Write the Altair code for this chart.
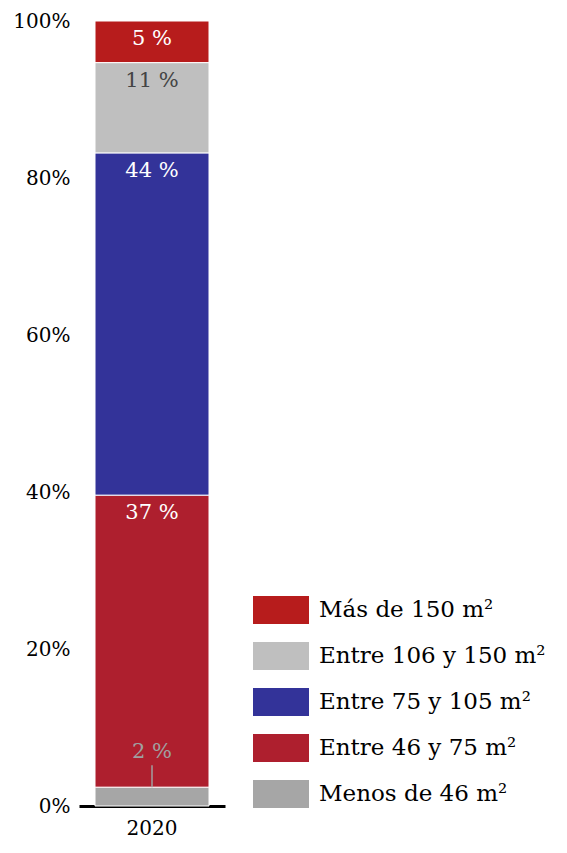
import altair as alt
import pandas as pd

categories = ["Menos de 46 m²", "Entre 46 y 75 m²", "Entre 75 y 105 m²",
              "Entre 106 y 150 m²", "Más de 150 m²"]
values = [2.4, 37.2, 43.6, 11.5, 5.3]
labels = ["2 %", "37 %", "44 %", "11 %", "5 %"]
label_colors = ["#a0a0a0", "#ffffff", "#ffffff", "#444444", "#ffffff"]
colors = ["#a6a6a6", "#ae1f2e", "#333399", "#bfbfbf", "#b71c1c"]
year = "2020"

FONT = "DejaVu Serif"

rows = []
cum = 0
for i, (c, v, l, lc) in enumerate(zip(categories, values, labels, label_colors)):
    rows.append({"year": year, "cat": c, "value": v, "order": i,
                 "y0": cum, "y1": cum + v, "label": l, "lcolor": lc})
    cum += v
df = pd.DataFrame(rows)

legend_order = categories[::-1]
legend_colors = colors[::-1]

x = alt.X("year:N", title=None,
          axis=alt.Axis(labelAngle=0, ticks=False, domainColor="black", domainWidth=3,
                        labelFont=FONT, labelFontSize=20, labelColor="black", labelPadding=12))
yscale = alt.Scale(domain=[0, 100], nice=False)

bars = alt.Chart(df).mark_bar(size=114, stroke="white", strokeWidth=1).encode(
    x=x,
    y=alt.Y("y0:Q", scale=yscale, title=None,
            axis=alt.Axis(values=[0, 20, 40, 60, 80, 100], labelExpr="datum.value + '%'",
                          domain=False, ticks=False, grid=False, labelFont=FONT,
                          labelFontSize=20, labelColor="black", labelPadding=9)),
    y2="y1:Q",
    color=alt.Color("cat:N", scale=alt.Scale(domain=legend_order, range=legend_colors),
                    legend=alt.Legend(title=None, orient="none", legendX=174, legendY=561,
                                      symbolType="M-1,-0.5H1V0.5H-1Z", symbolSize=3136,
                                      symbolStrokeWidth=0, symbolOpacity=1,
                                      labelFont=FONT, labelFontSize=23, labelColor="black",
                                      labelOffset=10, rowPadding=4, padding=0,
                                      labelLimit=400)),
)

inner = df[df["value"] >= 4]
small = df[df["value"] < 4].copy()
small["lead_top"] = small["y1"] + 2.8

text_in = alt.Chart(inner).mark_text(font=FONT, fontSize=21, baseline="middle", dy=18).encode(
    x=alt.X("year:N"), y=alt.Y("y1:Q", scale=yscale), text="label:N",
    color=alt.Color("lcolor:N", scale=None))

lead = alt.Chart(small).mark_rule(color="#a0a0a0", strokeWidth=1.5).encode(
    x=alt.X("year:N"), y=alt.Y("y1:Q", scale=yscale), y2="lead_top:Q")

text_small = alt.Chart(small).mark_text(font=FONT, fontSize=21, baseline="middle", dy=-35).encode(
    x=alt.X("year:N"), y=alt.Y("y1:Q", scale=yscale), text="label:N",
    color=alt.Color("lcolor:N", scale=None))

chart = alt.layer(bars, lead, text_in, text_small).properties(
    width=146, height=785,
    autosize=alt.AutoSizeParams(type="none"),
    padding={"left": 71, "top": 13, "right": 334, "bottom": 39},
).configure_view(stroke=None)

chart.save("out.html", embed_options={"renderer": "svg", "actions": False})
